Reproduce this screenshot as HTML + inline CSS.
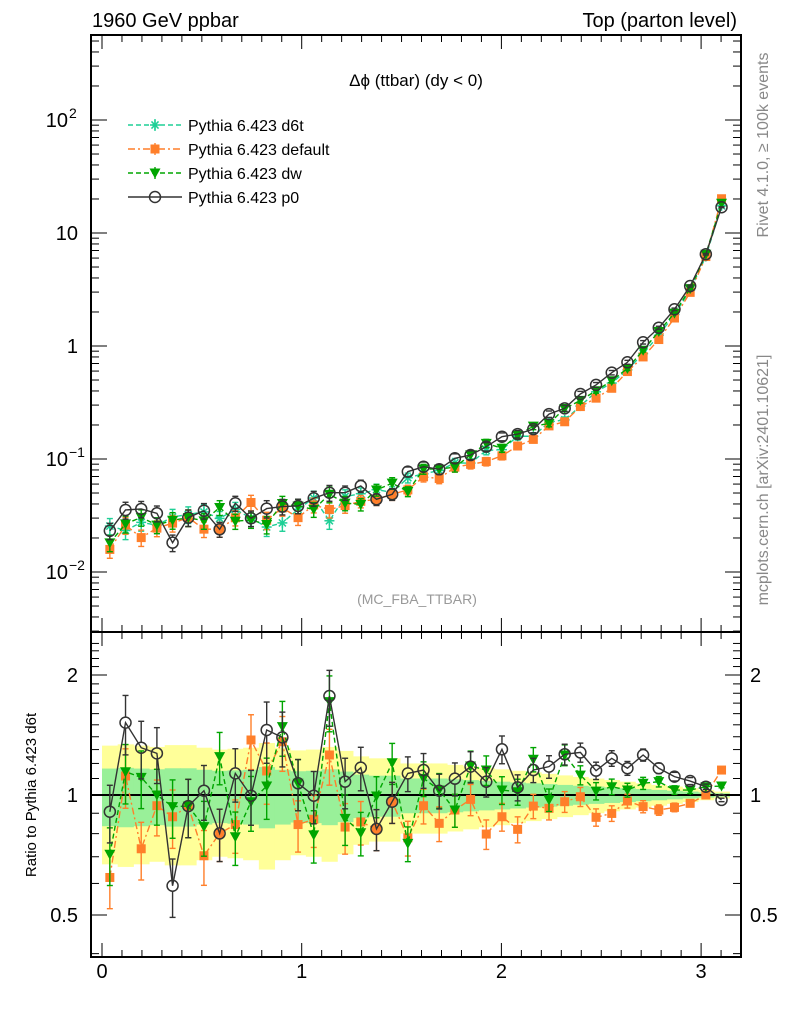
<!DOCTYPE html>
<html><head><meta charset="utf-8">
<style>
html,body{margin:0;padding:0;background:#fff;}
svg{display:block;font-family:"Liberation Sans","DejaVu Sans",sans-serif;}
</style></head>
<body>
<svg id="c" width="786" height="1024" viewBox="0 0 786 1024" xmlns="http://www.w3.org/2000/svg">
<defs>
<clipPath id="clipMain"><rect x="91" y="35" width="650" height="597"/></clipPath>
<clipPath id="clipRatio"><rect x="91" y="632" width="650" height="325"/></clipPath>
</defs>
<rect x="0" y="0" width="786" height="1024" fill="#fff"/>
<g id="bands" clip-path="url(#clipRatio)"></g>
<g id="gridTicks"></g>
<g id="mainSeries" clip-path="url(#clipMain)"></g>
<g id="ratioSeries" clip-path="url(#clipRatio)"></g>
<rect x="91" y="35" width="650" height="597" fill="none" stroke="#000" stroke-width="2"/>
<rect x="91" y="632" width="650" height="325" fill="none" stroke="#000" stroke-width="2"/>
<text x="92" y="27" font-size="20">1960 GeV ppbar</text>
<text x="737" y="27" font-size="20" text-anchor="end">Top (parton level)</text>
<text x="416" y="86" font-size="17" text-anchor="middle">Δϕ (ttbar) (dy &lt; 0)</text>
<text x="417" y="604" font-size="14" fill="#999" text-anchor="middle">(MC_FBA_TTBAR)</text>
<text transform="translate(768,145) rotate(-90)" font-size="16" fill="#888" text-anchor="middle">Rivet 4.1.0, ≥ 100k events</text>
<text transform="translate(768,480) rotate(-90)" font-size="16" fill="#888" text-anchor="middle">mcplots.cern.ch [arXiv:2401.10621]</text>
<text transform="translate(36,795) rotate(-90)" font-size="15" text-anchor="middle">Ratio to Pythia 6.423 d6t</text>
<g id="legend"></g>
</svg>
<script>
const nBins = 40;
const xMin = 0, xMax = Math.PI;
const seriesNames = ["Pythia 6.423 d6t","Pythia 6.423 default","Pythia 6.423 dw","Pythia 6.423 p0"];
const d6tValues = [0.0255,0.0233,0.0275,0.0260,0.0307,0.0323,0.0340,0.0298,0.0358,0.0300,0.0250,0.0272,0.0359,0.0451,0.0284,0.0466,0.0493,0.0535,0.0507,0.0682,0.0740,0.0791,0.0923,0.0920,0.119,0.121,0.159,0.159,0.212,0.222,0.294,0.393,0.470,0.615,0.856,1.244,1.90,3.13,6.19,17.4];
const d6tRelErr = [0.165,0.17,0.165,0.16,0.167,0.167,0.157,0.15,0.153,0.157,0.175,0.157,0.147,0.15,0.16,0.145,0.125,0.118,0.118,0.10,0.10,0.10,0.095,0.09,0.085,0.08,0.075,0.07,0.065,0.06,0.055,0.05,0.045,0.04,0.035,0.03,0.025,0.02,0.015,0.01];
const ratioDefault = [0.621,1.116,0.733,0.940,0.882,0.938,0.704,0.801,0.843,1.374,1.149,1.360,0.843,0.869,1.260,0.831,0.856,0.822,0.962,0.781,0.940,0.849,0.917,0.975,0.798,0.882,0.820,0.938,0.926,0.962,0.990,0.879,0.899,0.966,0.935,0.917,0.931,0.953,1.0,1.155];
const ratioDw = [0.710,1.144,1.107,1.0,0.935,0.938,0.833,1.248,0.786,0.962,1.053,1.484,1.070,0.794,1.715,0.874,0.804,0.994,1.205,0.756,1.101,1.029,0.917,1.182,1.155,1.029,1.019,1.229,0.972,1.260,1.122,1.023,1.049,1.029,1.070,1.080,1.029,1.029,1.049,1.053];
const ratioP0 = [0.908,1.519,1.314,1.272,0.592,0.938,1.025,0.801,1.133,0.996,1.456,1.395,1.070,0.996,1.771,1.080,1.171,0.822,0.962,1.133,1.155,1.025,1.099,1.178,1.080,1.302,1.045,1.155,1.178,1.265,1.279,1.151,1.236,1.167,1.260,1.167,1.112,1.084,1.049,0.972];
const xTickLabels = ["0","1","2","3"];
const mainTickLabels = [[-2,"10","−2"],[-1,"10","−1"],[0,"1",""],[1,"10",""],[2,"10","2"]];
const ratioTickLabels = [[0.5,"0.5"],[1,"1"],[2,"2"]];

const NS = "http://www.w3.org/2000/svg";
const L = 91, R = 741, MT = 35, MB = 632, RT = 632, RB = 957;
function xs(v){ return 102 + (v - 0) * 199.7; }
function ym(v){ return 120 + (2 - Math.log10(v)) * 113; }
function yr(v){ return 795 - Math.log2(v) * 120; }
function mk(tag, attrs, parent){ const e = document.createElementNS(NS, tag); for (const k in attrs) e.setAttribute(k, attrs[k]); parent.appendChild(e); return e; }
const binW = (xMax - xMin) / nBins;
const centers = []; for (let i = 0; i < nBins; i++) centers.push(xMin + (i + 0.5) * binW);

const bands = document.getElementById('bands');
for (const [k, col, nm] of [[2, '#ffff99', 'yellow-band'], [1, '#99f099', 'green-band']]) {
  for (let i = 0; i < nBins; i++) {
    const lo = 1 - k * d6tRelErr[i], hi = 1 + k * d6tRelErr[i];
    const r = mk('rect', {x: xs(xMin + i * binW), y: yr(hi), width: xs(xMin + (i + 1) * binW) - xs(xMin + i * binW) + 0.5, height: yr(lo) - yr(hi), fill: col}, bands);
    
    
  }
}
const gt = document.getElementById('gridTicks');
function line(x1, y1, x2, y2, w, col, p){ return mk('line', {x1, y1, x2, y2, stroke: col || '#000', 'stroke-width': w || 1}, p || gt); }
for (let t = 0; t <= 32; t++) {
  const v = t / 10, x = xs(v), major = t % 10 === 0;
  const len = major ? 14 : 7;
  line(x, MB, x, MB - len); line(x, MT, x, MT + len);
  line(x, RB, x, RB - len); line(x, RT, x, RT + len);
}
xTickLabels.forEach((s, i) => {
  const t = mk('text', {x: xs(i), y: 978, 'font-size': 20, 'text-anchor': 'middle'}, gt); t.textContent = s;
  
  
});
for (let d = -3; d <= 2; d++) {
  for (let m = 1; m <= 9; m++) {
    const v = m * Math.pow(10, d), y = ym(v);
    if (y < MT || y > MB) continue;
    const len = m === 1 ? 16 : 8;
    line(L, y, L + len, y); line(R, y, R - len, y);
  }
}
mainTickLabels.forEach(([e, base, sup]) => {
  const t = mk('text', {x: sup ? 68 : 78, y: ym(Math.pow(10, e)) + 7, 'font-size': 20, 'text-anchor': 'end'}, gt);
  t.textContent = base;
  
  
  if (sup) { const s = mk('text', {x: 69, y: ym(Math.pow(10, e)) - 2, 'font-size': 14}, gt); s.textContent = sup;
    
     }
});
for (const v of [0.4,0.5,0.6,0.7,0.8,0.9,1,2]) {
  const y = yr(v), len = (v === 1 || v === 2 || v === 0.5) ? 16 : 8;
  line(L, y, L + len, y); line(R, y, R - len, y);
}
for (let v = 1.1; v < 2.5; v += 0.1) { if (Math.abs(v - 2) < 0.01) continue; const y = yr(v); if (y < RT) continue; line(L, y, L + 8, y); line(R, y, R - 8, y); }
ratioTickLabels.forEach(([v, s]) => {
  const a = mk('text', {x: 78, y: yr(v) + 7, 'font-size': 20, 'text-anchor': 'end'}, gt); a.textContent = s;
  
  
  const b = mk('text', {x: 750, y: yr(v) + 7, 'font-size': 20}, gt); b.textContent = s;
  
  
});
line(L, yr(1), R, yr(1), 2, '#000');

function marker(type, x, y, col, p){
  let e;
  if (type === 'star') {
    e = mk('g', {stroke: col, 'stroke-width': 1.5}, p);
    for (let a = 0; a < 4; a++) { const an = a * Math.PI / 4; mk('line', {x1: x - 5 * Math.cos(an), y1: y - 5 * Math.sin(an), x2: x + 5 * Math.cos(an), y2: y + 5 * Math.sin(an)}, e); }
  } else if (type === 'square') {
    e = mk('rect', {x: x - 4.5, y: y - 4.5, width: 9, height: 9, fill: col}, p);
  } else if (type === 'tri') {
    e = mk('polygon', {points: `${x-5.5},${y-4.5} ${x+5.5},${y-4.5} ${x},${y+5.5}`, fill: col}, p);
  } else {
    e = mk('circle', {cx: x, cy: y, r: 5.5, fill: 'none', stroke: col, 'stroke-width': 1.5}, p);
  }
  return e;
}
const styles = [
  {col: '#1fcf96', dash: '5,3', m: 'star'},
  {col: '#ff7f2a', dash: '7,3,2,3', m: 'square'},
  {col: '#00a500', dash: '5,3', m: 'tri'},
  {col: '#333333', dash: '', m: 'circle'}
];
const ratios = [d6tValues.map(() => 1), ratioDefault, ratioDw, ratioP0];
function drawSeries(parent, yf, vals, st, nm){
  const g = mk('g', {}, parent);
  
  
  const pts = vals.map((v, i) => xs(centers[i]) + ',' + yf(v)).join(' ');
  mk('polyline', {points: pts, fill: 'none', stroke: st.col, 'stroke-width': 1.4, 'stroke-dasharray': st.dash}, g);
  vals.forEach((v, i) => {
    const x = xs(centers[i]), e = d6tRelErr[i] * v;
    const yc = yf(v), yt = yf(v + e), yb = yf(Math.max(v - e, v * 0.3));
    if (st.m === 'circle') {
      if (yt < yc - 5.5) line(x, yt, x, yc - 5.5, 1.4, st.col, g);
      if (yb > yc + 5.5) line(x, yc + 5.5, x, yb, 1.4, st.col, g);
    } else {
      line(x, yt, x, yb, 1.4, st.col, g);
    }
    line(x - 3, yt, x + 3, yt, 1.4, st.col, g);
    line(x - 3, yb, x + 3, yb, 1.4, st.col, g);
    const m = marker(st.m, x, yc, st.col, g);
    
    
  });
}
const mainG = document.getElementById('mainSeries'), ratioG = document.getElementById('ratioSeries');
const keys = ['d6t', 'default', 'dw', 'p0'];
for (let s = 0; s < 4; s++) {
  const mainVals = d6tValues.map((v, i) => v * ratios[s][i]);
  drawSeries(mainG, ym, mainVals, styles[s], 'main-' + keys[s]);
  if (s > 0) drawSeries(ratioG, yr, ratios[s], styles[s], 'ratio-' + keys[s]);
}
const lg = document.getElementById('legend');
seriesNames.forEach((n, s) => {
  const y = 125 + s * 24, st = styles[s];
  const g = mk('g', {}, lg);
  
  
  mk('line', {x1: 128, y1: y, x2: 182, y2: y, stroke: st.col, 'stroke-width': 1.4, 'stroke-dasharray': st.dash}, g);
  if (st.m !== 'circle') line(155, y - 6, 155, y + 6, 1.4, st.col, g);
  marker(st.m, 155, y, st.col, g);
  const t = mk('text', {x: 188, y: y + 6, 'font-size': 16}, g); t.textContent = n;
});
</script>
</body></html>
